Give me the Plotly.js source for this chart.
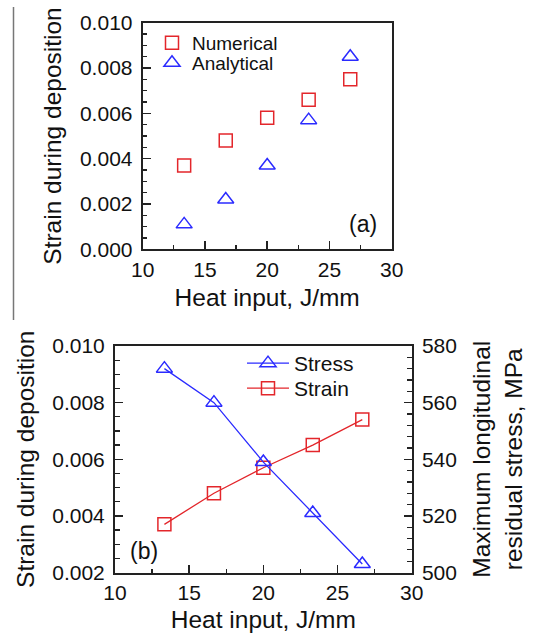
<!DOCTYPE html>
<html>
<head>
<meta charset="utf-8">
<script src="https://cdn.plot.ly/plotly-3.0.1.min.js"></script>
<style>
  html, body { margin: 0; padding: 0; background: #fff; }
  #chart { width: 533px; height: 635px; }
</style>
</head>
<body>
<div id="chart"></div>
<script>
// ---- Data ----
const heatInput = [13.33, 16.67, 20.0, 23.33, 26.67];          // J/mm
// Panel (a)
const strainNumerical = [0.0037, 0.0048, 0.0058, 0.0066, 0.0075];
const strainAnalytical = [0.0011, 0.0022, 0.0037, 0.0057, 0.0085];
// Panel (b)
const stressMPa = [572, 560, 539, 521, 503];
const strainB = [0.0037, 0.0048, 0.0057, 0.0065, 0.0074];

const xTitle = 'Heat input, J/mm';
const yTitleStrain = 'Strain during deposition';
const yTitleStress = 'Maximum longitudinal<br>residual stress, MPa';

// ---- Style ----
const RED = '#e3262b';
const BLUE = '#2b2bff';
const FONT = 'Liberation Sans, Arial, sans-serif';
const INK = '#111111';
const W = 533, H = 635;
const px = v => v / W;
const py = v => (H - v) / H;

const traces = [
  { x: heatInput, y: strainNumerical, name: 'Numerical', type: 'scatter', mode: 'markers',
    xaxis: 'x', yaxis: 'y', legend: 'legend',
    marker: { symbol: 'square-open', size: 13, color: RED, line: { width: 1.5, color: RED } } },
  { x: heatInput, y: strainAnalytical, name: 'Analytical', type: 'scatter', mode: 'markers',
    xaxis: 'x', yaxis: 'y', legend: 'legend2',
    marker: { symbol: 'triangle-up-open', size: 14, color: BLUE, line: { width: 1.5, color: BLUE } } },
  { x: heatInput, y: stressMPa, name: 'Stress', type: 'scatter', mode: 'lines+markers',
    xaxis: 'x2', yaxis: 'y3', legend: 'legend3',
    line: { color: BLUE, width: 1.3 },
    marker: { symbol: 'triangle-up-open', size: 14, color: BLUE, line: { width: 1.5, color: BLUE } } },
  { x: heatInput, y: strainB, name: 'Strain', type: 'scatter', mode: 'lines+markers',
    xaxis: 'x2', yaxis: 'y2', legend: 'legend4',
    line: { color: RED, width: 1.3 },
    marker: { symbol: 'square-open', size: 13, color: RED, line: { width: 1.5, color: RED } } }
];

const baseAxis = {
  showline: true, linewidth: 2, linecolor: '#222', mirror: true,
  showgrid: false, zeroline: false,
  ticks: 'inside', ticklen: 8, tickwidth: 1.5, tickcolor: '#222',
  tickfont: { family: FONT, size: 21, color: INK }
};
const titleFont = { family: FONT, size: 24.5, color: INK };

function legendAt(x, yTop, size, itemwidth) {
  return {
    x: px(x), y: py(yTop), xanchor: 'left', yanchor: 'top',
    bgcolor: 'rgba(0,0,0,0)', borderwidth: 0,
    font: { family: FONT, size: size, color: INK },
    itemwidth: itemwidth
  };
}

const layout = {
  width: W, height: H,
  margin: { l: 0, r: 0, t: 0, b: 0 },
  paper_bgcolor: '#fff', plot_bgcolor: '#fff',
  font: { family: FONT, color: INK },
  xaxis: Object.assign({}, baseAxis, {
    domain: [px(142.7), px(391.7)], anchor: 'y', range: [10, 30], dtick: 5,
    ticklabelstandoff: 0,
    minor: { dtick: 2.5, ticks: 'inside', ticklen: 4, tickwidth: 1.2, tickcolor: '#222' },
    title: { text: xTitle, font: titleFont, standoff: 9 }
  }),
  yaxis: Object.assign({}, baseAxis, {
    domain: [py(249.3), py(22.7)], anchor: 'x', range: [0, 0.010], dtick: 0.002, tickformat: '.3f',
    ticklabelstandoff: 4,
    minor: { dtick: 0.0005, ticks: 'inside', ticklen: 4.5, tickwidth: 1.2, tickcolor: '#222' },
    title: { text: yTitleStrain, font: titleFont, standoff: 11 }
  }),
  xaxis2: Object.assign({}, baseAxis, {
    domain: [px(115), px(411.7)], anchor: 'y2', range: [10, 30], dtick: 5,
    ticklabelstandoff: 0,
    minor: { dtick: 2.5, ticks: 'inside', ticklen: 4, tickwidth: 1.2, tickcolor: '#222' },
    title: { text: xTitle, font: titleFont, standoff: 8 }
  }),
  yaxis2: Object.assign({}, baseAxis, {
    domain: [py(572.5), py(346)], anchor: 'x2', range: [0.002, 0.010], dtick: 0.002, tickformat: '.3f',
    ticklabelstandoff: 4,
    minor: { dtick: 0.0005, ticks: 'inside', ticklen: 4.5, tickwidth: 1.2, tickcolor: '#222' },
    title: { text: yTitleStrain, font: titleFont, standoff: 11 }
  }),
  yaxis3: Object.assign({}, baseAxis, {
    overlaying: 'y2', side: 'right', anchor: 'x2', range: [500, 580], dtick: 20,
    mirror: false, ticklabelstandoff: 4,
    minor: { dtick: 4, ticks: 'inside', ticklen: 5, tickwidth: 1.2, tickcolor: '#222' },
    title: { text: yTitleStress, font: titleFont, standoff: 17 }
  }),
  legend: legendAt(152, 24, 19, 30),
  legend2: legendAt(152, 44, 19, 30),
  legend3: legendAt(242, 343, 21, 42),
  legend4: legendAt(242, 368, 21, 42),
  showlegend: true,
  annotations: [
    { text: '(a)', xref: 'paper', yref: 'paper', x: px(363), y: py(224),
      xanchor: 'center', yanchor: 'middle', showarrow: false,
      font: { family: FONT, size: 23, color: INK } },
    { text: '(b)', xref: 'paper', yref: 'paper', x: px(143.5), y: py(551),
      xanchor: 'center', yanchor: 'middle', showarrow: false,
      font: { family: FONT, size: 23, color: INK } }
  ],
  shapes: [
    { type: 'line', xref: 'paper', yref: 'paper', x0: px(13.5), x1: px(13.5), y0: py(320), y1: py(7),
      line: { color: '#777', width: 1.5 } }
  ]
};

Plotly.newPlot('chart', traces, layout, { staticPlot: true, displayModeBar: false });
</script>
</body>
</html>
